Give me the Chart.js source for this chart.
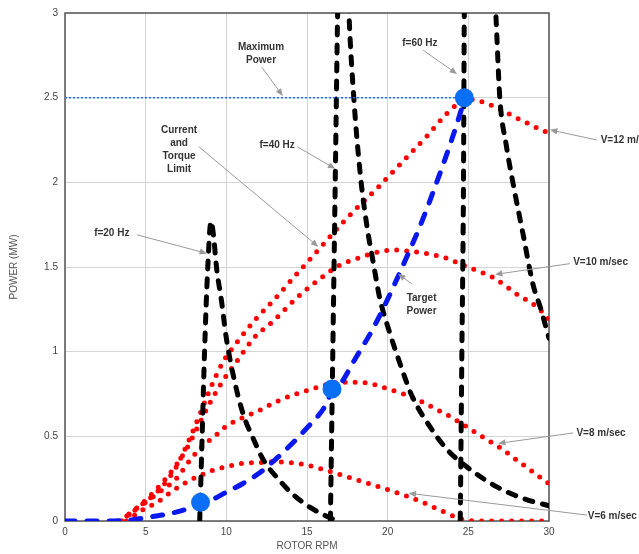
<!DOCTYPE html>
<html>
<head>
<meta charset="utf-8">
<script src="https://cdn.jsdelivr.net/npm/chart.js@4.4.0/dist/chart.umd.min.js"></script>
<style>
    html, body { margin: 0; padding: 0; background: #fff; }
</style>
</head>
<body>
<canvas id="powerChart" width="639" height="554"></canvas>
<script>
// rotor rpm / power (MW)
const v6Rpm = [3.8, 4.8, 5.7, 6.7, 7.75, 8.4, 9.2, 10, 11, 12, 13, 14, 15, 16, 17.2, 18.5, 19.5, 20.5, 21.4, 22.3, 23, 23.7, 24.3, 25, 26, 27, 28, 29, 30];
const v6Power = [0, 0.065, 0.11, 0.18, 0.24, 0.27, 0.30, 0.32, 0.34, 0.345, 0.35, 0.345, 0.33, 0.305, 0.27, 0.23, 0.2, 0.17, 0.14, 0.105, 0.075, 0.045, 0.02, 0.003, 0, 0, 0, 0, 0];

const v8Rpm = [3.5, 4.2, 5, 5.7, 6.9, 7.75, 8.4, 9.4, 10, 11, 12, 13, 14, 15, 16, 17, 18, 19, 20, 21, 22, 23, 24, 25, 26, 27, 28, 29, 30];
const v8Power = [0, 0.06, 0.11, 0.16, 0.25, 0.36, 0.43, 0.51, 0.56, 0.61, 0.65, 0.70, 0.74, 0.77, 0.80, 0.82, 0.82, 0.81, 0.78, 0.75, 0.71, 0.66, 0.61, 0.55, 0.49, 0.43, 0.36, 0.29, 0.22];

const v10Rpm = [3.5, 4.5, 5.5, 6.5, 7.5, 8.2, 9, 9.8, 10.7, 11.7, 12.9, 14.4, 15.8, 17, 18.1, 19.5, 20.5, 21.6, 22.4, 23.7, 24.7, 25.5, 26.5, 28, 29.3, 30];
const v10Power = [0, 0.08, 0.17, 0.28, 0.42, 0.55, 0.70, 0.83, 0.95, 1.08, 1.18, 1.32, 1.43, 1.51, 1.55, 1.59, 1.60, 1.59, 1.58, 1.55, 1.51, 1.48, 1.44, 1.34, 1.26, 1.19];

const v12Rpm = [3.3, 4, 4.8, 5.9, 6.9, 7.7, 8.4, 9, 9.8, 10.7, 11.9, 12.9, 14.1, 15.6, 17, 17.9, 19.5, 21, 22.5, 23.5, 24.3, 25, 25.7, 27, 28, 29.3, 30];
const v12Power = [0, 0.04, 0.1, 0.19, 0.32, 0.48, 0.64, 0.78, 0.94, 1.06, 1.2, 1.3, 1.43, 1.59, 1.74, 1.83, 1.98, 2.13, 2.28, 2.39, 2.46, 2.49, 2.48, 2.43, 2.38, 2.32, 2.29];

const f20Rpm = [8.35, 8.5, 8.65, 8.85, 9.05, 9.2, 9.4, 9.7, 10, 10.5, 11.05, 11.7, 12.3, 13.2, 14.1, 15.2, 16.4, 16.9];
const f20Power = [0, 0.5, 1.0, 1.5, 1.77, 1.69, 1.49, 1.30, 1.08, 0.83, 0.63, 0.48, 0.36, 0.25, 0.16, 0.08, 0.02, 0];

const f40Rpm = [16.45, 16.6, 16.75, 16.9, 17, 17.25, 17.5, 17.6, 17.9, 18.3, 18.7, 19.1, 19.5, 20.1, 20.8, 21.5, 22.6, 23.7, 24.9, 26.8, 28.5, 30];
const f40Power = [0, 1.0, 2.0, 3.0, 3.4, 3.6, 3.3, 3.0, 2.5, 2.05, 1.75, 1.53, 1.32, 1.12, 0.92, 0.74, 0.56, 0.42, 0.32, 0.2, 0.13, 0.09];

const f60Rpm = [24.5, 24.6, 24.7, 24.75, 24.9, 25.7, 26.5, 26.7, 26.95, 27.35, 27.8, 28.4, 29, 29.5, 30];
const f60Power = [0, 1.0, 2.0, 3.0, 3.5, 3.7, 3.3, 3.0, 2.5, 2.22, 1.98, 1.69, 1.40, 1.25, 1.08];

const targetRpm = [0, 2, 4, 5, 6, 7, 8, 8.4, 9, 10, 11, 12, 13, 14, 15, 16, 16.6, 17, 18, 19, 20, 21, 22, 23, 24, 24.8];
const targetPower = [0, 0, 0.005, 0.02, 0.035, 0.055, 0.085, 0.1, 0.12, 0.17, 0.22, 0.28, 0.36, 0.45, 0.55, 0.66, 0.77, 0.8, 0.96, 1.12, 1.31, 1.52, 1.74, 1.99, 2.26, 2.5];

const maxRpm = [0, 24.7];
const maxPower = [2.5, 2.5];

const markerRpm = [8.4, 16.55, 24.75];
const markerPower = [0.11, 0.78, 2.5];

// callouts, in chart units: text lines, text centre, arrow tail -> head
const notes = [
    { lines: ['Maximum', 'Power'], x: 12.15, y: 2.80, from: [12.2, 2.68], to: [13.5, 2.51] },
    { lines: ['f=60 Hz'], x: 22.0, y: 2.82, from: [22.2, 2.78], to: [24.3, 2.64] },
    { lines: ['f=40 Hz'], x: 13.15, y: 2.22, from: [14.4, 2.21], to: [16.75, 2.08] },
    { lines: ['Current', 'and', 'Torque', 'Limit'], x: 7.07, y: 2.31, from: [8.3, 2.21], to: [15.7, 1.62] },
    { lines: ['f=20 Hz'], x: 2.9, y: 1.70, from: [4.46, 1.69], to: [8.8, 1.58] },
    { lines: ['Target', 'Power'], x: 22.1, y: 1.315, from: [21.5, 1.40], to: [20.65, 1.46] },
    { lines: ['V=12 m/sec'], x: 33.2, y: 2.25, left: true, from: [32.97, 2.25], to: [30.06, 2.31] },
    { lines: ['V=10 m/sec'], x: 31.5, y: 1.53, left: true, from: [31.3, 1.52], to: [26.65, 1.456] },
    { lines: ['V=8 m/sec'], x: 31.7, y: 0.52, left: true, from: [31.5, 0.52], to: [26.84, 0.458] },
    { lines: ['V=6 m/sec'], x: 32.4, y: 0.03, left: true, from: [32.35, 0.035], to: [21.3, 0.164] }
];

const pts = (xs, ys) => xs.map((x, i) => ({ x: x, y: ys[i] }));

function windCurve(rpm, power) {
    return {
        data: pts(rpm, power),
        borderColor: '#ff0000',
        borderWidth: 5,
        borderDash: [0, 10],
        borderCapStyle: 'round',
        pointRadius: 0,
        cubicInterpolationMode: 'monotone',
        order: 5
    };
}

function freqCurve(rpm, power) {
    return {
        data: pts(rpm, power),
        borderColor: '#000',
        borderWidth: 5,
        borderDash: [8, 10],
        borderCapStyle: 'round',
        pointRadius: 0,
        cubicInterpolationMode: 'monotone',
        order: 4
    };
}

const framePlugin = {
    id: 'frame',
    beforeDatasetsDraw(chart) {
        const { ctx, chartArea: a } = chart;
        ctx.save();
        ctx.strokeStyle = '#555';
        ctx.lineWidth = 1.5;
        ctx.strokeRect(a.left, a.top, a.right - a.left, a.bottom - a.top);
        ctx.restore();
    }
};

const notesPlugin = {
    id: 'notes',
    afterDraw(chart) {
        const { ctx } = chart;
        const sx = chart.scales.x, sy = chart.scales.y;
        ctx.save();
        notes.forEach(n => {
            const x1 = sx.getPixelForValue(n.from[0]), y1 = sy.getPixelForValue(n.from[1]);
            const x2 = sx.getPixelForValue(n.to[0]), y2 = sy.getPixelForValue(n.to[1]);
            const ang = Math.atan2(y2 - y1, x2 - x1);
            ctx.strokeStyle = '#999';
            ctx.fillStyle = '#999';
            ctx.lineWidth = 1;
            ctx.beginPath();
            ctx.moveTo(x1, y1);
            ctx.lineTo(x2 - 5 * Math.cos(ang), y2 - 5 * Math.sin(ang));
            ctx.stroke();
            ctx.beginPath();
            ctx.moveTo(x2, y2);
            ctx.lineTo(x2 - 8 * Math.cos(ang - 0.4), y2 - 8 * Math.sin(ang - 0.4));
            ctx.lineTo(x2 - 8 * Math.cos(ang + 0.4), y2 - 8 * Math.sin(ang + 0.4));
            ctx.closePath();
            ctx.fill();

            ctx.fillStyle = '#333';
            ctx.font = 'bold 10px "Liberation Sans", Arial, sans-serif';
            ctx.textAlign = n.left ? 'left' : 'center';
            ctx.textBaseline = 'middle';
            const tx = sx.getPixelForValue(n.x), ty = sy.getPixelForValue(n.y);
            n.lines.forEach((line, i) => ctx.fillText(line, tx, ty + i * 13));
        });
        ctx.restore();
    }
};

document.addEventListener('DOMContentLoaded', function () {
    const ctx = document.getElementById('powerChart').getContext('2d');
    const tickFont = { family: '"Liberation Sans", Arial, sans-serif', size: 10 };

    new Chart(ctx, {
        type: 'line',
        data: {
            datasets: [
                windCurve(v6Rpm, v6Power),
                windCurve(v8Rpm, v8Power),
                windCurve(v10Rpm, v10Power),
                windCurve(v12Rpm, v12Power),
                freqCurve(f20Rpm, f20Power),
                freqCurve(f40Rpm, f40Power),
                freqCurve(f60Rpm, f60Power),
                {
                    data: pts(targetRpm, targetPower),
                    borderColor: '#0a18f0',
                    borderWidth: 5,
                    borderDash: [10, 12],
                    borderCapStyle: 'round',
                    pointRadius: 0,
                    cubicInterpolationMode: 'monotone',
                    order: 3
                },
                {
                    data: pts(maxRpm, maxPower),
                    borderColor: '#1a6fff',
                    borderWidth: 1.5,
                    borderDash: [2, 2],
                    pointRadius: 0,
                    order: 2
                },
                {
                    data: pts(markerRpm, markerPower),
                    showLine: false,
                    pointRadius: 9.5,
                    pointBackgroundColor: '#0a6ff5',
                    pointBorderWidth: 0,
                    order: 0
                }
            ]
        },
        options: {
            responsive: false,
            animation: false,
            layout: { padding: { top: 3, right: 90, left: 0, bottom: 0 } },
            plugins: {
                legend: { display: false },
                tooltip: { enabled: false }
            },
            scales: {
                x: {
                    type: 'linear',
                    min: 0,
                    max: 30,
                    ticks: { stepSize: 5, font: tickFont, color: '#444', padding: 5, maxRotation: 0 },
                    grid: { color: '#d4d4d4', drawTicks: false },
                    border: { display: false },
                    title: { display: true, text: 'ROTOR RPM', font: tickFont, color: '#555', padding: { top: 0, bottom: 2 } },
                    afterFit: scale => { scale.height = 33; }
                },
                y: {
                    min: 0,
                    max: 3,
                    ticks: { stepSize: 0.5, font: tickFont, color: '#444', padding: 7, callback: v => String(v) },
                    grid: { color: '#d4d4d4', drawTicks: false },
                    border: { display: false },
                    title: { display: true, text: 'POWER (MW)', font: tickFont, color: '#555', padding: { top: 8, bottom: 0 } },
                    afterFit: scale => { scale.width = 65; }
                }
            }
        },
        plugins: [framePlugin, notesPlugin]
    });
});
</script>
</body>
</html>
